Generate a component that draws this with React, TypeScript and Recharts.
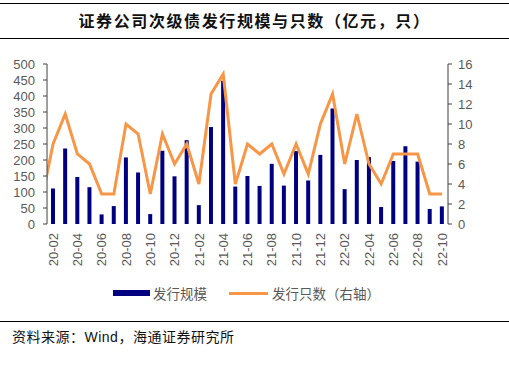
import { ComposedChart, Bar, Line, XAxis, YAxis } from 'recharts';

// month labels; '20-01' only feeds the line's first segment, which is clipped at the axis
const months = [
  '20-01', '20-02', '20-03', '20-04', '20-05', '20-06', '20-07', '20-08', '20-09', '20-10', '20-11', '20-12',
  '21-01', '21-02', '21-03', '21-04', '21-05', '21-06', '21-07', '21-08', '21-09', '21-10', '21-11', '21-12',
  '22-01', '22-02', '22-03', '22-04', '22-05', '22-06', '22-07', '22-08', '22-09', '22-10',
];
// 发行规模（亿元）
const scale = [
  null, 111, 236, 147, 115, 30, 56, 208, 161, 31, 229, 149,
  262, 59, 303, 448, 117, 150, 119, 188, 120, 228, 136, 216,
  361, 109, 200, 209, 53, 197, 243, 195, 47, 55,
];
// 发行只数（只）
const counts = [
  2, 8, 11, 7, 6, 3, 3, 10, 9, 3, 9, 6,
  8, 4, 13, 15, 4, 8, 7, 8, 5, 8, 5, 10,
  13, 6, 11, 6, 4, 7, 7, 7, 3, 3,
];
const leftTicks = [0, 50, 100, 150, 200, 250, 300, 350, 400, 450, 500];
const rightTicks = [0, 2, 4, 6, 8, 10, 12, 14, 16];
const labelIdx = months.map((_, i) => i).filter((i) => i % 2 === 1);
const boundaryIdx = labelIdx.map((i) => i - 0.5);

const data = months.map((m, i) => ({ idx: i, month: m, scale: scale[i], counts: counts[i] }));

const NAVY = '#000080';
const ORANGE = '#F79646';
const GREY = '#595959';
const SANS = '"Liberation Sans", Arial, sans-serif';
const CJK = '"Noto Sans CJK SC", sans-serif';

const MonthTick = ({ x, y, payload }: any) => (
  <g transform={`translate(${x},${y})`}>
    <text transform="rotate(-90)" textAnchor="end" dy="0.36em" fill={GREY} fontSize={13} fontFamily={SANS}>
      {months[payload.value]}
    </text>
  </g>
);

export default function App() {
  return (
    <div style={{ position: 'absolute', left: 0, top: 0, width: 509, height: 377, background: '#fff', overflow: 'hidden' }}>
      <div style={{ position: 'absolute', left: 0, top: 3, width: 509, borderTop: '1.5px solid #000' }} />
      <div
        style={{
          position: 'absolute', left: 0, top: 9, width: 509, textAlign: 'center',
          fontFamily: CJK, fontWeight: 700, fontSize: 16, letterSpacing: 1.6, color: '#111', lineHeight: '22px',
        }}
      >
        证券公司次级债发行规模与只数（亿元，只）
      </div>
      <div style={{ position: 'absolute', left: 0, top: 38, width: 509, borderTop: '1.5px solid #000' }} />

      <div style={{ position: 'absolute', left: 0, top: 0 }}>
        <ComposedChart width={509} height={280} data={data} margin={{ top: 64, right: 0, bottom: 6, left: 0 }}>
          <XAxis
            xAxisId="t"
            type="number"
            dataKey="idx"
            domain={[0.5, 33.5]}
            allowDataOverflow
            ticks={boundaryIdx}
            interval={0}
            tick={false}
            height={0}
            axisLine={{ stroke: '#d9d9d9' }}
            tickLine={{ stroke: '#d9d9d9' }}
            tickSize={5}
          />
          <XAxis
            xAxisId="m"
            type="number"
            dataKey="idx"
            domain={[0.5, 33.5]}
            allowDataOverflow
            ticks={labelIdx}
            interval={0}
            height={50}
            axisLine={false}
            tickLine={false}
            tickSize={0}
            tickMargin={9}
            tick={<MonthTick />}
          />
          <YAxis
            yAxisId="l"
            domain={[0, 500]}
            ticks={leftTicks}
            interval={0}
            width={47}
            axisLine={{ stroke: '#404040' }}
            tickLine={{ stroke: '#404040' }}
            tickSize={4}
            tickMargin={8}
            tick={{ fill: GREY, fontSize: 13, fontFamily: SANS }}
          />
          <YAxis
            yAxisId="r"
            orientation="right"
            domain={[0, 16]}
            ticks={rightTicks}
            interval={0}
            width={61}
            axisLine={{ stroke: '#404040' }}
            tickLine={{ stroke: '#404040' }}
            tickSize={4}
            tickMargin={6}
            tick={{ fill: GREY, fontSize: 13, fontFamily: SANS, textAnchor: 'start' }}
          />
          <Bar xAxisId="m" yAxisId="l" dataKey="scale" fill={NAVY} barSize={4} isAnimationActive={false} />
          <Line
            xAxisId="m"
            yAxisId="r"
            dataKey="counts"
            type="linear"
            stroke={ORANGE}
            strokeWidth={3}
            dot={false}
            activeDot={false}
            isAnimationActive={false}
          />
        </ComposedChart>
      </div>

      <div style={{ position: 'absolute', left: 113, top: 284, height: 18, display: 'flex', alignItems: 'center', fontFamily: CJK, fontSize: 13.5, color: GREY }}>
        <span style={{ display: 'inline-block', width: 37, height: 6, background: NAVY, marginRight: 3 }} />
        <span>发行规模</span>
        <span style={{ display: 'inline-block', width: 39, height: 3, background: ORANGE, marginLeft: 22, marginRight: 4 }} />
        <span>发行只数（右轴）</span>
      </div>

      <div style={{ position: 'absolute', left: 0, top: 321, width: 509, borderTop: '1.5px solid #000' }} />
      <div style={{ position: 'absolute', left: 12, top: 327, fontFamily: CJK, fontSize: 14, letterSpacing: 0.5, color: '#111', lineHeight: '18px' }}>
        资料来源：<span style={{ fontFamily: SANS }}>Wind</span>，海通证券研究所
      </div>
    </div>
  );
}
